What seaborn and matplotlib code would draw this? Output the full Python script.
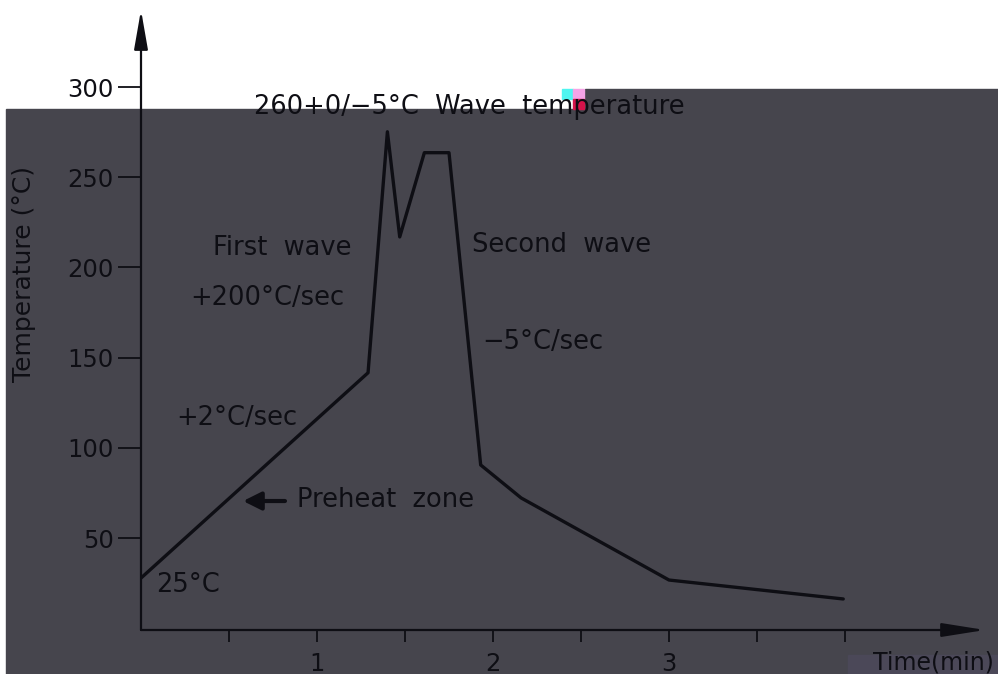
import matplotlib
matplotlib.use("Agg")
import matplotlib.pyplot as plt
import matplotlib.patches as mpatches
import seaborn as sns
import numpy as np
import pandas as pd

# --- wave soldering profile ---
time_min = [0.0, 1.29, 1.40, 1.47, 1.61, 1.75, 1.93, 2.16, 3.00, 3.99]
temp_c = [27.8, 141.6, 275.2, 216.9, 263.6, 263.6, 90.5, 72.2, 26.7, 16.2]

y_ticks = [50, 100, 150, 200, 250, 300]
x_major = [1, 2, 3, 4]
x_major_labels = ["1", "2", "3", ""]
x_minor = [0.5, 1.5, 2.5, 3.5]

df = pd.DataFrame({"Time": time_min, "Temp": temp_c})

ink = "#0e0e14"
shade = "#46454d"

sns.set_theme(style="white")
plt.rcParams["font.family"] = ["DejaVu Sans"]

fig = plt.figure(figsize=(9.98, 6.74), dpi=100)
fig.patch.set_facecolor("white")

# dark backdrop (two steps on top edge, like the source image)
fig.patches.append(mpatches.Rectangle((6 / 998, 0), 579 / 998, (674 - 109) / 674,
                                      transform=fig.transFigure, color=shade, zorder=-2))
fig.patches.append(mpatches.Rectangle((585 / 998, 0), 413 / 998, (674 - 89) / 674,
                                      transform=fig.transFigure, color=shade, zorder=-2))
# small colour glitches near the title text
for (x0, y0, c) in [(562, 89, "#4ff5f0"), (573, 89, "#f5a3e6"), (573, 99, "#d4134a")]:
    fig.patches.append(mpatches.Rectangle((x0 / 998, 1 - (y0 + 10) / 674), 11 / 998, 10 / 674,
                                          transform=fig.transFigure, color=c, zorder=-1))
fig.patches.append(mpatches.Rectangle((848 / 998, 0), 150 / 998, 19 / 674,
                                      transform=fig.transFigure, color="#4b4858", zorder=-1))

ax = fig.add_axes([141 / 998, 44 / 674, 844 / 998, 620 / 674])
ax.set_facecolor("none")

sns.lineplot(data=df, x="Time", y="Temp", sort=False, color=ink, lw=2.4, ax=ax)

ax.set_xlim(0, 844 / 176)
ax.set_ylim(-1, 342.7)

for s in ax.spines.values():
    s.set_visible(False)

# axis lines with arrow heads
ax.annotate("", xy=(1, 0), xytext=(0, 0), xycoords="axes fraction",
            textcoords="axes fraction",
            arrowprops=dict(arrowstyle="-|>,head_length=2.2,head_width=0.35",
                            lw=1.6, color=ink, shrinkA=0, shrinkB=0))
ax.annotate("", xy=(0, 1), xytext=(0, 0), xycoords="axes fraction",
            textcoords="axes fraction",
            arrowprops=dict(arrowstyle="-|>,head_length=2.0,head_width=0.35",
                            lw=1.6, color=ink, shrinkA=0, shrinkB=0))

ax.set_yticks(y_ticks)
ax.set_yticklabels([str(v) for v in y_ticks])
ax.set_xticks(x_major)
ax.set_xticklabels(x_major_labels)
ax.set_xticks(x_minor, minor=True)
ax.tick_params(axis="y", direction="out", length=16.5, width=1.3, color=ink,
               labelsize=17.5, labelcolor=ink, pad=3, left=True)
ax.tick_params(axis="x", which="both", direction="out", length=8.5, width=1.3,
               color=ink, labelsize=17.5, labelcolor=ink, pad=7, bottom=True)
ax.set_xlabel("")
ax.set_ylabel("Temperature (°C)", fontsize=18, color=ink)
ax.yaxis.set_label_coords(-0.124, 0.575)
ax.grid(False)

txt = dict(color=ink, fontsize=18.5, ha="left", va="center", clip_on=False)
ax.text(0.642, 289, "260+0/−5°C  Wave  temperature", **txt)
ax.text(0.409, 210.8, "First  wave", **txt)
ax.text(0.278, 183.1, "+200°C/sec", **txt)
ax.text(1.881, 212.4, "Second  wave", **txt)
ax.text(1.938, 158.6, "−5°C/sec", **txt)
ax.text(0.199, 116.5, "+2°C/sec", **txt)
ax.text(0.886, 71.1, "Preheat  zone", **txt)
ax.text(0.085, 24.0, "25°C", **txt)
ax.text(4.16, -19.1, "Time(min)", color=ink, fontsize=17, ha="left", va="center",
        clip_on=False)

ax.annotate("", xy=(0.58, 70.5), xytext=(0.818, 70.5),
            arrowprops=dict(arrowstyle="-|>,head_length=0.9,head_width=0.45",
                            lw=3, color=ink, shrinkA=0, shrinkB=0))

fig.savefig("out.png", dpi=100)
